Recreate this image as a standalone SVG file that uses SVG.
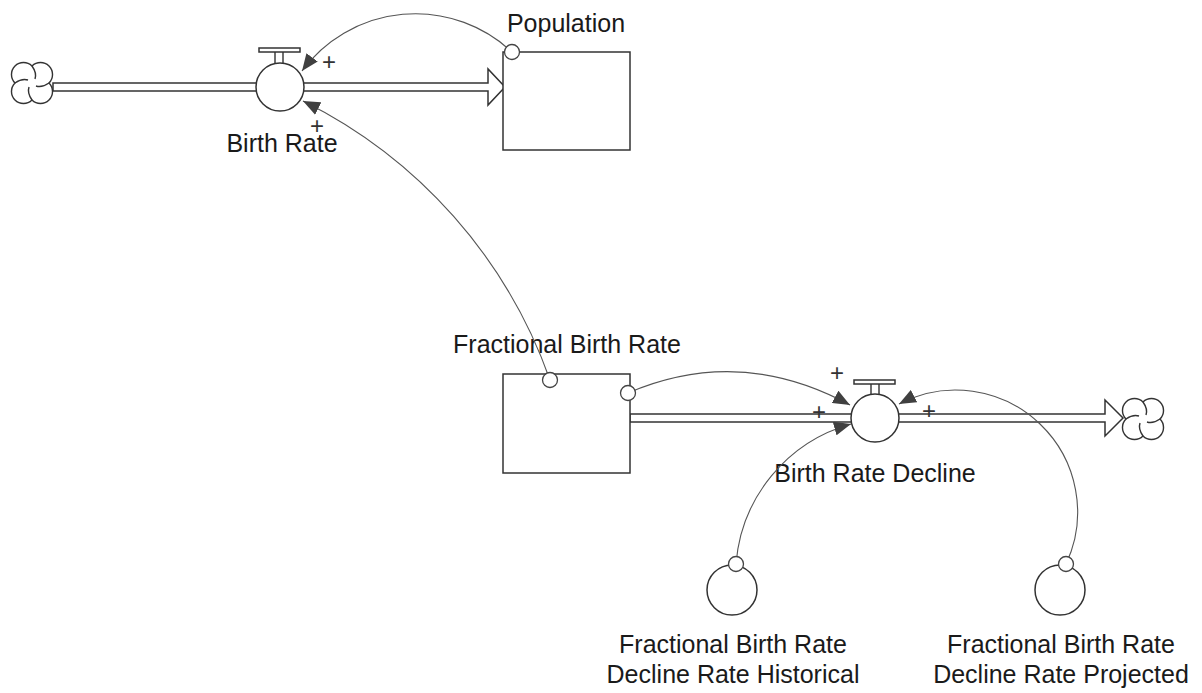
<svg xmlns="http://www.w3.org/2000/svg" width="1202" height="693" viewBox="0 0 1202 693">
<style>
.pipe{fill:#fff;stroke:#333;stroke-width:1.5;stroke-linejoin:miter}
.shape{fill:#fff;stroke:#333;stroke-width:1.5}
.cloud{fill:#fff;stroke:#333;stroke-width:1.4}
.swirl{fill:none;stroke:#333;stroke-width:1.4}
.conn{fill:none;stroke:#555;stroke-width:1.1}
.dot{fill:#fff;stroke:#444;stroke-width:1.3}
.lbl{font-family:"Liberation Sans",Arial,sans-serif;font-size:25px;fill:#1a1a1a;text-anchor:middle}
.pol{font-family:"Liberation Sans",Arial,sans-serif;font-size:24px;fill:#333;text-anchor:middle}
</style>
<defs>
<marker id="ah" markerUnits="userSpaceOnUse" markerWidth="18" markerHeight="14" refX="17" refY="7" orient="auto">
<path d="M0,0 L17,7 L0,14 z" fill="#404040"/>
</marker>
<g id="cloudShape">
<path class="cloud" d="M0,-17 A12,12 0 1 1 17,0 A12,12 0 1 1 0,17 A12,12 0 1 1 -17,0 A12,12 0 1 1 0,-17 z"/>
<path class="swirl" d="M0,-17 Q5,-10 3,-4 M17,0 Q10,5 4,3 M0,17 Q-5,10 -3,4 M-17,0 Q-10,-5 -4,-3"/>
</g>
</defs>

<!-- pipes -->
<g id="pipes">
<path class="pipe" d="M53,83 L488,83 L488,69 L505,87 L488,105 L488,91 L53,91 Z"/>
<path class="pipe" d="M630,414 L1105,414 L1105,400 L1123,418 L1105,436 L1105,422 L630,422 Z"/>
</g>

<!-- clouds -->
<g id="cloud-left"><use href="#cloudShape" transform="translate(32,83)"/></g>
<g id="cloud-right"><use href="#cloudShape" transform="translate(1143,419)"/></g>

<!-- stocks -->
<g id="population">
<rect class="shape" x="503" y="52" width="127" height="98"/>
<text class="lbl" x="566" y="32">Population</text>
</g>
<g id="fractional-birth-rate">
<rect class="shape" x="503" y="374" width="127" height="99"/>
<text class="lbl" x="567" y="353">Fractional Birth Rate</text>
</g>

<!-- valves -->
<g id="birth-rate">
<rect class="shape" x="259" y="48" width="41" height="4"/>
<path class="swirl" d="M275,52 L275,64 M283,52 L283,64"/>
<circle class="shape" cx="280" cy="87" r="24"/>
<text class="lbl" x="282" y="152">Birth Rate</text>
</g>
<g id="birth-rate-decline">
<rect class="shape" x="854" y="380" width="41" height="4"/>
<path class="swirl" d="M871,384 L871,395 M879,384 L879,395"/>
<circle class="shape" cx="875" cy="418" r="24"/>
<text class="lbl" x="875" y="482">Birth Rate Decline</text>
</g>

<!-- auxiliaries -->
<g id="fbr-decline-historical">
<circle class="shape" cx="732" cy="590" r="25"/>
<text class="lbl" x="733" y="653">Fractional Birth Rate</text>
<text class="lbl" x="733" y="683">Decline Rate Historical</text>
</g>
<g id="fbr-decline-projected">
<circle class="shape" cx="1060" cy="590" r="25"/>
<text class="lbl" x="1061" y="653">Fractional Birth Rate</text>
<text class="lbl" x="1061" y="683">Decline Rate Projected</text>
</g>

<!-- connectors -->
<g id="connectors">
<path class="conn" d="M512,52 A141,141 0 0 0 302,71" marker-end="url(#ah)"/>
<path class="conn" d="M550,380 A496,496 0 0 0 303,101" marker-end="url(#ah)"/>
<path class="conn" d="M628,393 Q740,345 850,405" marker-end="url(#ah)"/>
<path class="conn" d="M736,564 A158,158 0 0 1 851,424" marker-end="url(#ah)"/>
<path class="conn" d="M1066,564 A122,122 0 0 0 899,404" marker-end="url(#ah)"/>
<circle class="dot" cx="512" cy="52" r="7.5"/>
<circle class="dot" cx="550" cy="380" r="7.5"/>
<circle class="dot" cx="628" cy="393" r="7.5"/>
<circle class="dot" cx="736" cy="564" r="7.5"/>
<circle class="dot" cx="1066" cy="564" r="7.5"/>
<text class="pol" x="329" y="70">+</text>
<text class="pol" x="317" y="134">+</text>
<text class="pol" x="837" y="381">+</text>
<text class="pol" x="819" y="420">+</text>
<text class="pol" x="929" y="419">+</text>
</g>
</svg>
